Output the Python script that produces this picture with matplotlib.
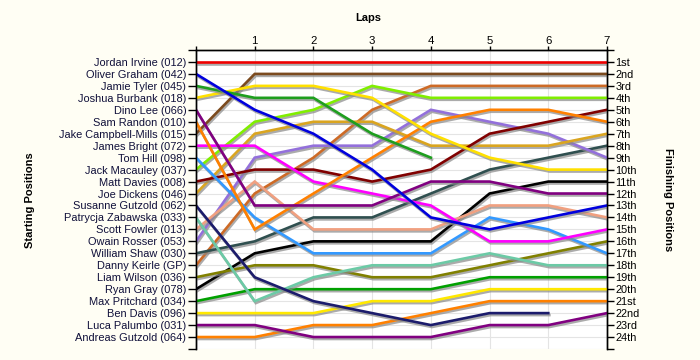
import matplotlib
matplotlib.use("Agg")
import matplotlib.pyplot as plt
import matplotlib.patheffects as pe

plt.rcParams['font.family'] = ['Liberation Sans', 'DejaVu Sans']

# drivers in starting grid order
drivers = ["Jordan Irvine (012)", "Oliver Graham (042)", "Jamie Tyler (045)",
           "Joshua Burbank (018)", "Dino Lee (066)", "Sam Randon (010)",
           "Jake Campbell-Mills (015)", "James Bright (072)", "Tom Hill (098)",
           "Jack Macauley (037)", "Matt Davies (008)", "Joe Dickens (046)",
           "Susanne Gutzold (062)", "Patrycja Zabawska (033)", "Scott Fowler (013)",
           "Owain Rosser (053)", "William Shaw (030)", "Danny Keirle (GP)",
           "Liam Wilson (036)", "Ryan Gray (078)", "Max Pritchard (034)",
           "Ben Davis (096)", "Luca Palumbo (031)", "Andreas Gutzold (064)"]

colors = ["#ee0000", "#0000dd", "#1e9e1e", "#ffe000", "#800080", "#ff8000",
          "#7b4a1e", "#ff00ff", "#3399ff", "#80ee00", "#800000", "#daa520",
          "#1c1c6c", "#6ccaa6", "#f0a080", "#9370db", "#2f4f4f", "#cd6a26",
          "#808000", "#000000", "#00a000", "#ffe800", "#800080", "#ff8000"]

# position of each driver (grid order) after each lap, None = retired
lap0 = [1, 2, 3, 4, 5, 6, 7, 8, 9, 10, 11, 12, 13, 14, 15, 16, 17, 18, 19, 20, 21, 22, 23, 24]
lap1 = [1, 5, 4, 3, 13, 15, 2, 8, 14, 6, 10, 7, 19, 21, 11, 9, 16, 12, 18, 17, 20, 22, 23, 24]
lap2 = [1, 7, 4, 3, 13, 12, 2, 11, 17, 5, 10, 6, 21, 19, 15, 8, 14, 9, 18, 16, 20, 22, 24, 23]
lap3 = [1, 10, 7, 4, 13, 9, 2, 12, 17, 3, 11, 6, 22, 18, 15, 8, 14, 5, 19, 16, 20, 21, 24, 23]
lap4 = [1, 14, 9, 7, 11, 6, 2, 13, 17, 4, 10, 8, 23, 18, 15, 5, 12, 3, 19, 16, 20, 21, 24, 22]
lap5 = [1, 15, None, 9, 11, 5, 2, 16, 14, 4, 7, 8, 22, 17, 13, 6, 10, 3, 18, 12, 19, 20, 23, 21]
lap6 = [1, 14, None, 10, 12, 5, 2, 16, 15, 4, 6, 8, 22, 18, 13, 7, 9, 3, 17, 11, 19, 20, 23, 21]
lap7 = [1, 13, None, 10, 12, 6, 2, 15, 17, 4, 5, 7, None, 18, 14, 9, 8, 3, 16, 11, 19, 20, 22, 21]

laps = [0, 1, 2, 3, 4, 5, 6, 7]
finish_labels = ["1st", "2nd", "3rd", "4th", "5th", "6th", "7th", "8th", "9th", "10th",
                 "11th", "12th", "13th", "14th", "15th", "16th", "17th", "18th", "19th",
                 "20th", "21st", "22nd", "23rd", "24th"]

table = [lap0, lap1, lap2, lap3, lap4, lap5, lap6, lap7]

fig = plt.figure(figsize=(7, 3.6), dpi=100, facecolor="#fffef4")
ax = fig.add_axes([196 / 700, 1 - 349 / 360, 411 / 700, 299 / 360])
ax.set_facecolor("white")

shadow = [pe.SimpleLineShadow(offset=(0.8, -1.4), shadow_color="#888888", alpha=0.7),
          pe.Normal()]

for i, name in enumerate(drivers):
    xs, ys = [], []
    for lap, row in zip(laps, table):
        if row[i] is not None:
            xs.append(lap)
            ys.append(row[i])
    ax.plot(xs, ys, color=colors[i], lw=1.9, solid_joinstyle="miter",
            path_effects=shadow, zorder=3 + (24 - i) * 0.01)

ax.set_xlim(0, 7)
ax.set_ylim(25, 0)

ax.xaxis.tick_top()
ax.set_xticks(laps)
ax.set_xticklabels([""] + [str(l) for l in laps[1:]], fontsize=8.2)
ax.tick_params(axis="x", length=3, width=1, pad=0)

pos_ticks = list(range(0, 26))
ax.set_yticks(pos_ticks)
ax.set_yticklabels([""] + drivers + [""], fontsize=7.9, color="#10103a")
ax.tick_params(axis="y", length=6, width=1, pad=1)

ax2 = ax.twinx()
ax2.set_ylim(25, 0)
ax2.set_yticks(pos_ticks)
ax2.set_yticklabels([""] + finish_labels + [""], fontsize=7.9)
ax2.tick_params(axis="y", length=5, width=1, pad=1)

# axis titles
fig.text(368 / 700, 1 - 18 / 360, "Laps", fontsize=8, fontweight="bold",
         ha="center", va="center")
fig.text(30 / 700, 1 - 200 / 360, "Starting Positions", fontsize=8, fontweight="bold",
         rotation=90, ha="center", va="center")
fig.text(668 / 700, 1 - 200 / 360, "Finishing Positions", fontsize=8, fontweight="bold",
         rotation=270, ha="center", va="center")

ax.grid(True, color="#e4e4e4", lw=0.8, zorder=0)
ax.set_axisbelow(True)
for a in (ax, ax2):
    a.spines["bottom"].set_visible(False)
    for s in ("left", "right", "top"):
        a.spines[s].set_linewidth(1)

fig.savefig("out.png", dpi=100, facecolor=fig.get_facecolor())
